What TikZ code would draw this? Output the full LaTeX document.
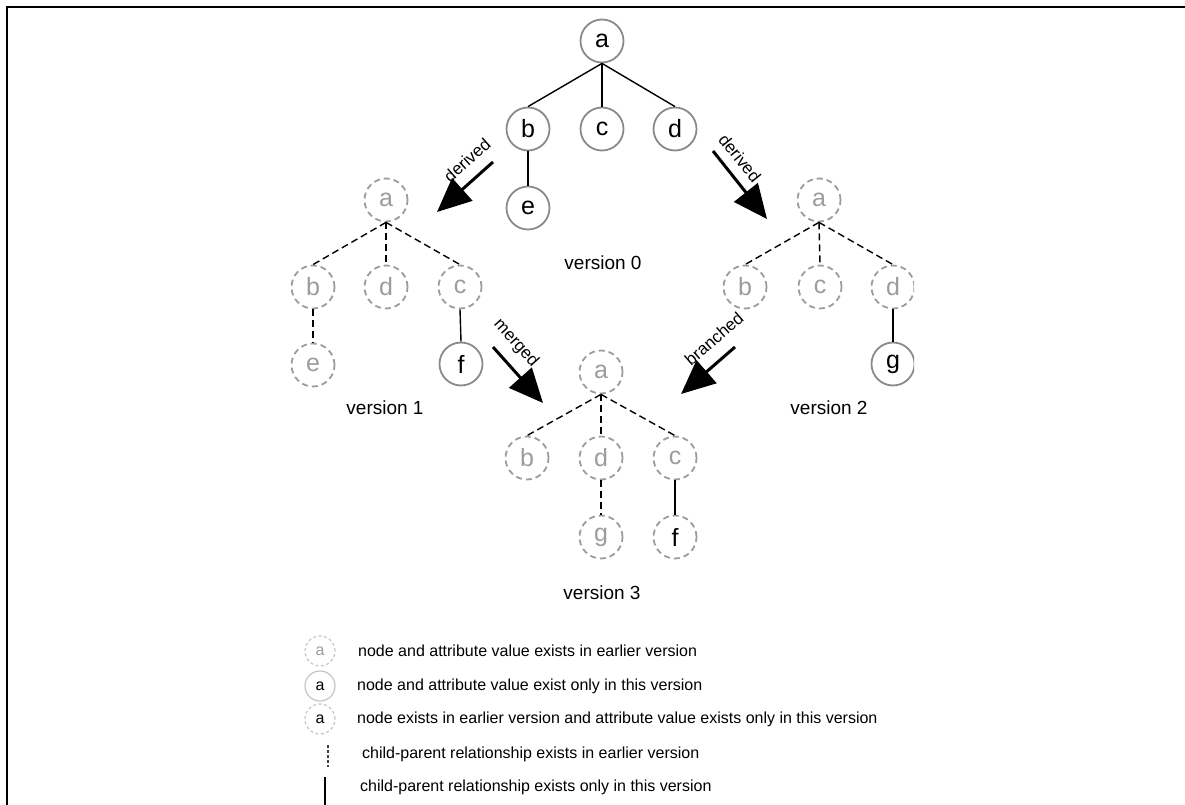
\documentclass[tikz,border=0pt]{standalone}
\usepackage{fontspec}
\setmainfont{Liberation Sans}
\usetikzlibrary{arrows.meta}
\definecolor{ringgray}{HTML}{8A8A8A}
\definecolor{oldgray}{HTML}{9C9C9C}
\definecolor{lightring}{HTML}{C4C4C4}
\begin{document}
\begin{tikzpicture}[x=1pt,y=-1pt,
  vnode/.style={circle, minimum size=43pt, inner sep=0pt, line width=1.8pt,
    font=\fontsize{25}{25}\selectfont},
  cur/.style={vnode, draw=ringgray, text=black},
  old/.style={vnode, draw=oldgray, dash pattern=on 6pt off 4pt, text=oldgray},
  oldval/.style={vnode, draw=oldgray, dash pattern=on 6pt off 4pt, text=black},
  link/.style={line width=1.4pt, black},
  oldlink/.style={link, dash pattern=on 7pt off 4pt},
  bigarrow/.style={line width=3pt, -{Triangle[length=34pt,width=30pt]}},
  arrowlabel/.style={inner sep=0pt, font=\fontsize{17}{17}\selectfont},
  verlabel/.style={font=\fontsize{19}{19}\selectfont},
  legnode/.style={circle, minimum size=30pt, inner sep=0pt, line width=1.2pt,
    font=\fontsize{16}{16}\selectfont},
  legtext/.style={anchor=west, inner sep=0pt, font=\fontsize{16}{16}\selectfont}
]
\useasboundingbox (0,0) rectangle (1185,805);
% frame
\draw[line width=2pt] (7,805) -- (7,7) -- (1185,7);

% version 0
\node[cur] (a0) at (602,41) {a};
\node[cur] (b0) at (528,129) {b};
\node[cur] (c0) at (602,129) {c};
\node[cur] (d0) at (675,129) {d};
\node[cur] (e0) at (528,208) {e};
\draw[link] (a0.south) -- (b0.north);
\draw[link] (a0.south) -- (c0.north);
\draw[link] (a0.south) -- (d0.north);
\draw[link] (b0.south) -- (e0.north);
\node[verlabel] (v0) at (603,263) {version 0};

% version 1
\node[old] (a1) at (386,200) {a};
\node[old] (b1) at (313,287) {b};
\node[old] (d1) at (386,287) {d};
\node[old] (c1) at (460,287) {c};
\node[old] (e1) at (313,365) {e};
\node[cur] (f1) at (461,364) {f};
\draw[oldlink] (a1.south) -- (b1.north);
\draw[oldlink] (a1.south) -- (d1.north);
\draw[oldlink] (a1.south) -- (c1.north);
\draw[oldlink] (b1.south) -- (e1.north);
\draw[link] (c1.south) -- (f1.north);
\node[verlabel] (v1) at (385,408) {version 1};

% version 2 (right column cut at the edge)
\node[old] (a2) at (819,200) {a};
\node[old] (b2) at (745,287) {b};
\node[old] (c2) at (820,287) {c};
\begin{scope}
  \clip (0,0) rectangle (914,805);
  \node[old] (d2) at (893,287) {d};
  \node[cur] (g2) at (893,364) {g};
\end{scope}
\draw[oldlink] (a2.south) -- (b2.north);
\draw[oldlink] (a2.south) -- (c2.north);
\draw[oldlink] (a2.south) -- (d2.north);
\draw[link] (d2.south) -- (g2.north);
\node[verlabel] (v2) at (829,408) {version 2};

% version 3
\node[old] (a3) at (601,372) {a};
\node[old] (b3) at (527,458) {b};
\node[old] (d3) at (601,458) {d};
\node[old] (c3) at (675,458) {c};
\node[old] (g3) at (601,537) {g};
\node[oldval] (f3) at (675,537) {f};
\draw[oldlink] (a3.south) -- (b3.north);
\draw[oldlink] (a3.south) -- (d3.north);
\draw[oldlink] (a3.south) -- (c3.north);
\draw[oldlink] (d3.south) -- (g3.north);
\draw[link] (c3.south) -- (f3.north);
\node[verlabel] (v3) at (602,593) {version 3};

% derivation arrows
\coordinate (dl1) at (493,162);
\coordinate (dl2) at (437,212);
\coordinate (dr1) at (713,151);
\coordinate (dr2) at (767,219);
\coordinate (ml1) at (493,347);
\coordinate (ml2) at (543,403);
\coordinate (br1) at (735,347);
\coordinate (br2) at (681,394);
\draw[bigarrow] (dl1) -- (dl2);
\draw[bigarrow] (dr1) -- (dr2);
\draw[bigarrow] (ml1) -- (ml2);
\draw[bigarrow] (br1) -- (br2);
\node[arrowlabel, rotate=42] (ldl) at (467,160) {derived};
\node[arrowlabel, rotate=-51] (ldr) at (740,158) {derived};
\node[arrowlabel, rotate=-48] (lml) at (516,343) {merged};
\node[arrowlabel, rotate=41] (lbr) at (714,339) {branched};

% legend
\node[legnode, draw=lightring, dash pattern=on 3pt off 2.5pt, text=oldgray] (k1) at (320,651) {a};
\node[legtext] (t1) at (358,651) {node and attribute value exists in earlier version};
\node[legnode, draw=lightring, text=black] (k2) at (320,686) {a};
\node[legtext] (t2) at (357,686) {node and attribute value exist only in this version};
\node[legnode, draw=lightring, dash pattern=on 3pt off 2.5pt, text=black] (k3) at (320,719) {a};
\node[legtext] (t3) at (357,719) {node exists in earlier version and attribute value exists only in this version};
\coordinate (k4a) at (328,745);
\coordinate (k4b) at (328,767);
\draw[line width=1.2pt, black!75, dash pattern=on 3pt off 2pt] (k4a) -- (k4b);
\node[legtext] (t4) at (362,754) {child-parent relationship exists in earlier version};
\coordinate (k5a) at (325,777);
\coordinate (k5b) at (325,805);
\draw[line width=1.2pt, black] (k5a) -- (k5b);
\node[legtext] (t5) at (360,787) {child-parent relationship exists only in this version};
\end{tikzpicture}
\end{document}
